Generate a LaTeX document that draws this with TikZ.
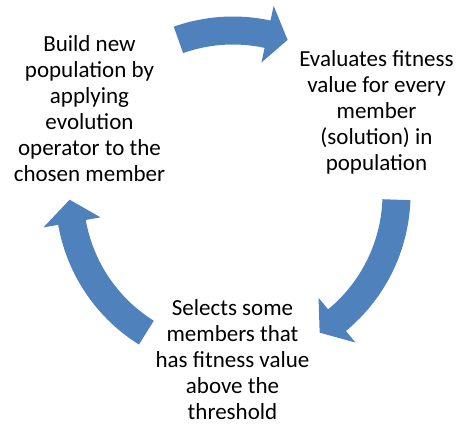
\documentclass[tikz,border=0pt]{standalone}
\usepackage{fontspec}
\setmainfont{Carlito}
\usetikzlibrary{calc}
\definecolor{cycleblue}{RGB}{79,129,189}

\tikzset{
  steptext/.style={align=center, anchor=north, inner sep=0pt, text=black,
    font=\fontsize{23}{26}\selectfont},
  cyclearrow/.style={fill=cycleblue, draw=none}
}

% Curved block arrow around centre C:
% #1 tail angle, #2 head base angle, #3 tip angle
\newcommand{\cyclearrowshape}[3]{%
  \fill[cyclearrow]
    ($(C)+(#1:177.5pt)$) arc[start angle=#1, end angle=#2, radius=177.5pt]
    -- ($(C)+(#2:192.5pt)$)
    -- ($(C)+(#3:163.5pt)$)
    -- ($(C)+(#2:134.5pt)$)
    -- ($(C)+(#2:149.5pt)$) arc[start angle=#2, end angle=#1, radius=149.5pt]
    -- cycle;}

\begin{document}
\begin{tikzpicture}[x=1pt, y=1pt]
  \useasboundingbox (0,0) rectangle (460,424);
  \coordinate (C) at (233,230);

  % the three arrows of the cycle
  \cyclearrowshape{109.5}{77.8}{70.5}
  \cyclearrowshape{-2}{-50.5}{-58}
  \cyclearrowshape{238}{190}{182}

  % the three steps
  \node[steptext] (build) at (89.5,390.5)
    {\strut Build new\\population by\\applying\\evolution\\operator to the\\chosen member};
  \node[steptext] (evaluate) at (376.5,376.2)
    {\strut Evaluates fitness\\value for every\\member\\(solution) in\\population};
  \node[steptext] (select) at (232.5,127.2)
    {\strut Selects some\\members that\\has fitness value\\above the\\threshold};
\end{tikzpicture}
\end{document}
